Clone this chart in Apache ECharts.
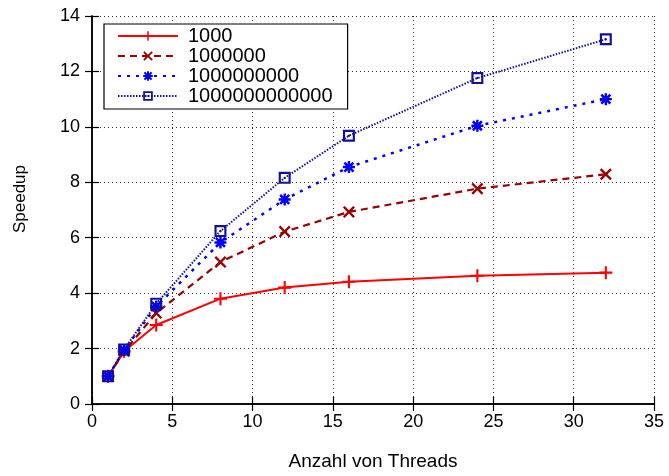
<!DOCTYPE html>
<html>
<head>
<meta charset="utf-8">
<script src="https://cdn.jsdelivr.net/npm/echarts@6/dist/echarts.min.js"></script>
<style>
  html, body { margin: 0; padding: 0; background: #fff; }
  #chart { width: 669px; height: 476px; }
</style>
</head>
<body>
<div id="chart"></div>
<script>
// Anzahl von Threads
const threads = [1, 2, 4, 8, 12, 16, 24, 32];
// Speedup je Problemgröße
const s1000 = [1, 1.9, 2.85, 3.8, 4.2, 4.41, 4.63, 4.74];
const s1000000 = [1, 1.9, 3.28, 5.12, 6.22, 6.93, 7.77, 8.29];
const s1000000000 = [1, 1.95, 3.52, 5.83, 7.38, 8.55, 10.04, 11.0];
const s1000000000000 = [1, 1.97, 3.62, 6.24, 8.16, 9.68, 11.76, 13.16];
const seriesNames = ["1000", "1000000", "1000000000", "1000000000000"];

const pair = (ys) => threads.map((x, i) => [x, ys[i]]);

const FONT = "Liberation Sans, Arial, sans-serif";

// Marker als gefüllte Pfade
const SYM_PLUS = "path://M4.2,0H5.8V4.2H10V5.8H5.8V10H4.2V5.8H0V4.2H4.2Z";
const SYM_X = "path://M0,1.4L1.4,0L5,3.6L8.6,0L10,1.4L6.4,5L10,8.6L8.6,10L5,6.4L1.4,10L0,8.6L3.6,5Z";
const SYM_STAR = "path://M4,0H6V4H10V6H6V10H4V6H0V4H4Z M0.5,2L2,0.5L5,3.5L8,0.5L9.5,2L6.5,5L9.5,8L8,9.5L5,6.5L2,9.5L0.5,8L3.5,5Z";
const SYM_BOX = "path://M0,0H10V10H0Z M1.8,1.8V8.2H8.2V1.8Z M4.2,4.2H5.8V5.8H4.2Z";

const makeSeries = (name, ys, color, symbol, size, lineType, width) => ({
  name: name,
  type: "line",
  data: pair(ys),
  symbol: symbol,
  symbolSize: size,
  symbolKeepAspect: true,
  showAllSymbol: true,
  itemStyle: { color: color },
  lineStyle: { color: color, width: width, type: lineType },
  emphasis: { disabled: true },
  animation: false,
});

const chart = echarts.init(document.getElementById("chart"));

const baseAxisLine = { show: true, lineStyle: { color: "#000", width: 1.5 } };
const baseTick = { show: true, inside: true, length: 7, lineStyle: { color: "#000", width: 1.2 } };

chart.setOption({
  backgroundColor: "#fff",
  textStyle: { fontFamily: FONT },
  grid: { left: 92, right: 15, top: 16, bottom: 65, containLabel: false },
  legend: {
    orient: "vertical",
    left: 104,
    top: 24,
    padding: [2, 15, 3, 13],
    itemWidth: 60,
    itemHeight: 12,
    itemGap: 0,
    backgroundColor: "#fff",
    borderColor: "#000",
    borderWidth: 1.2,
    borderRadius: 0,
    selectedMode: false,
    textStyle: { color: "#000", fontSize: 20, lineHeight: 19, padding: [0, 0, 0, 5], fontFamily: FONT },
    data: seriesNames,
  },
  graphic: [
    {
      type: "text",
      x: 20,
      y: 199,
      rotation: Math.PI / 2,
      style: {
        text: "Speedup",
        fill: "#000",
        font: "17px " + FONT,
        align: "center",
        verticalAlign: "middle",
      },
    },
  ],
  xAxis: [
    {
      type: "value",
      min: 0,
      max: 35,
      interval: 5,
      name: "Anzahl von Threads",
      nameLocation: "middle",
      nameGap: 48,
      nameTextStyle: { color: "#000", fontSize: 19, fontFamily: FONT },
      axisLine: baseAxisLine,
      axisTick: baseTick,
      axisLabel: { color: "#000", fontSize: 18, margin: 9, fontFamily: FONT },
      splitLine: { show: true, lineStyle: { color: "#333", width: 1, type: [1, 3] } },
    },
    {
      type: "value",
      position: "top",
      min: 0,
      max: 35,
      interval: 5,
      axisLine: baseAxisLine,
      axisTick: baseTick,
      axisLabel: { show: false },
      splitLine: { show: false },
    },
  ],
  yAxis: [
    {
      type: "value",
      min: 0,
      max: 14,
      interval: 2,
      axisLine: baseAxisLine,
      axisTick: baseTick,
      axisLabel: { color: "#000", fontSize: 18, margin: 12, fontFamily: FONT },
      splitLine: { show: true, lineStyle: { color: "#333", width: 1, type: [1, 3] } },
    },
    {
      type: "value",
      position: "right",
      min: 0,
      max: 14,
      interval: 2,
      axisLine: baseAxisLine,
      axisTick: baseTick,
      axisLabel: { show: false },
      splitLine: { show: false },
    },
  ],
  series: [
    makeSeries(seriesNames[0], s1000, "#ff0000", SYM_PLUS, 13, "solid", 2),
    makeSeries(seriesNames[1], s1000000, "#9a0000", SYM_X, 12, [7, 5], 2.2),
    makeSeries(seriesNames[2], s1000000000, "#0000ff", SYM_STAR, 12, [3, 6], 2.5),
    makeSeries(seriesNames[3], s1000000000000, "#10109a", SYM_BOX, 12, [1.5, 1.5], 2),
  ],
});
</script>
</body>
</html>
